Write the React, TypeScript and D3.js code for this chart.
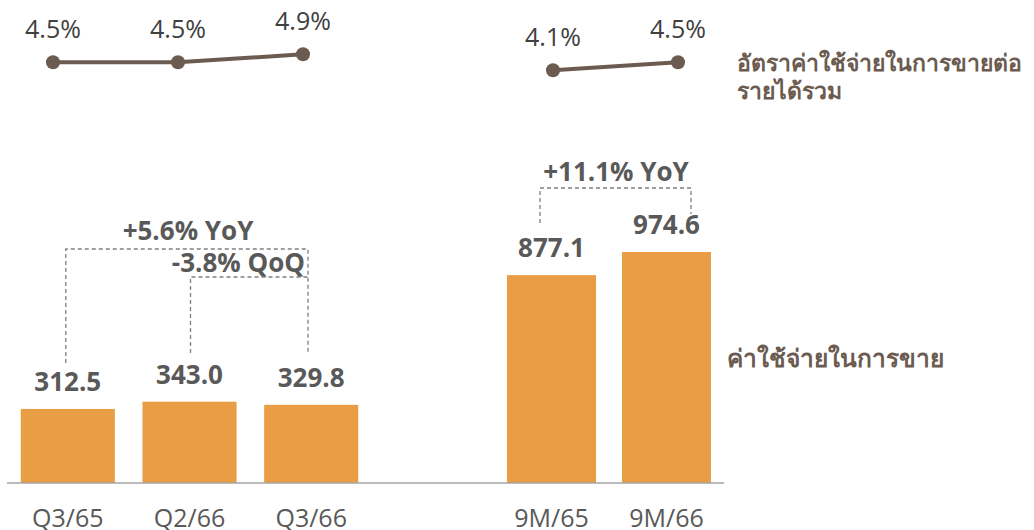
import React from "react";
import * as d3 from "d3";

const leftCats = ["Q3/65", "Q2/66", "Q3/66"];
const rightCats = ["9M/65", "9M/66"];
const leftValues = [312.5, 343.0, 329.8];
const rightValues = [877.1, 974.6];

const lineCats = ["Q3/65", "Q2/66", "Q3/66", "gap", "9M/65", "9M/66"];
const ratioLeft = [4.5, 4.5, 4.9];
const ratioRight = [4.1, 4.5];
const ratioLabels = ["4.5%", "4.5%", "4.9%", "4.1%", "4.5%"];

const legendLine = ["อัตราค่าใช้จ่ายในการขายต่อ", "รายได้รวม"];
const legendBar = "ค่าใช้จ่ายในการขาย";

const FONT = "'Segoe UI', 'Open Sans', 'Noto Sans', sans-serif";
const BAR = "#E99D45";
const BROWN = "#6B5B50";
const GREY_TXT = "#595959";

const App = () => {
  const width = 1034, height = 530;
  const base = 483;

  const xL = d3.scaleBand().domain(leftCats).range([7, 372]).paddingInner(0.227).paddingOuter(0.113);
  const xR = d3.scaleBand().domain(rightCats).range([494, 724]).paddingInner(0.226).paddingOuter(0.113);
  const y = d3.scaleLinear().domain([0, 1000]).range([base, base - 237]);

  const xP = d3.scalePoint().domain(lineCats).range([53, 678]);
  const yP = d3.scaleLinear().domain([4, 5]).range([72.3, 52.3]);

  const bars = [
    ...leftCats.map((c, i) => ({ c, v: leftValues[i], x: xL(c)!, w: xL.bandwidth() })),
    ...rightCats.map((c, i) => ({ c, v: rightValues[i], x: xR(c)!, w: xR.bandwidth() })),
  ];

  const ptsL = leftCats.map((c, i) => ({ c, v: ratioLeft[i] }));
  const ptsR = rightCats.map((c, i) => ({ c, v: ratioRight[i] }));
  const line = d3.line<{ c: string; v: number }>().x(d => xP(d.c)!).y(d => yP(d.v));
  const allPts = [...ptsL, ...ptsR];

  const cx = (b: { x: number; w: number }) => b.x + b.w / 2;
  const dash = { fill: "none", stroke: "#7F7F7F", strokeWidth: 1.3, strokeDasharray: "4,3" };

  return (
    <svg width={width} height={height} style={{ position: "absolute", left: 0, top: 0 }} fontFamily={FONT}>
      {/* bars */}
      {bars.map(b => (
        <g key={b.c}>
          <rect x={b.x} y={y(b.v)} width={b.w} height={base - y(b.v)} fill={BAR} />
          <text x={cx(b)} y={y(b.v) - 18} textAnchor="middle" fontSize={26} fontWeight="bold" fill={GREY_TXT}>
            {b.v.toFixed(1)}
          </text>
          <text x={cx(b)} y={527} textAnchor="middle" fontSize={25} fill={GREY_TXT}>{b.c}</text>
        </g>
      ))}
      <line x1={7} x2={724} y1={base} y2={base} stroke="#A6A6A6" strokeWidth={1.5} />

      {/* brackets */}
      <path d={`M${cx(bars[0]) - 2},363 V249 H308 V353`} {...dash} />
      <path d={`M${cx(bars[1]) + 1},353 V277 H308`} {...dash} />
      <path d={`M540,223 V188 H691 V214`} {...dash} />
      <text x={188} y={240} textAnchor="middle" fontSize={26} fontWeight="bold" fill={GREY_TXT}>+5.6% YoY</text>
      <text x={305} y={272} textAnchor="end" fontSize={26} fontWeight="bold" fill={GREY_TXT}>-3.8% QoQ</text>
      <text x={616} y={181} textAnchor="middle" fontSize={26} fontWeight="bold" fill={GREY_TXT}>+11.1% YoY</text>

      {/* ratio line */}
      <path d={line(ptsL)!} fill="none" stroke={BROWN} strokeWidth={4} />
      <path d={line(ptsR)!} fill="none" stroke={BROWN} strokeWidth={4} />
      {allPts.map((d, i) => (
        <g key={i}>
          <circle cx={xP(d.c)} cy={yP(d.v)} r={7} fill={BROWN} />
          <text x={xP(d.c)} y={yP(d.v) - 24} textAnchor="middle" fontSize={25} fill="#404040">{ratioLabels[i]}</text>
        </g>
      ))}

      {/* legend labels */}
      <text x={737} y={71} fontSize={23} fontWeight="bold" fill={BROWN}>{legendLine[0]}</text>
      <text x={737} y={99} fontSize={23} fontWeight="bold" fill={BROWN}>{legendLine[1]}</text>
      <text x={727} y={367} fontSize={24.5} fontWeight="bold" fill={BROWN}>{legendBar}</text>
    </svg>
  );
};

export default App;
